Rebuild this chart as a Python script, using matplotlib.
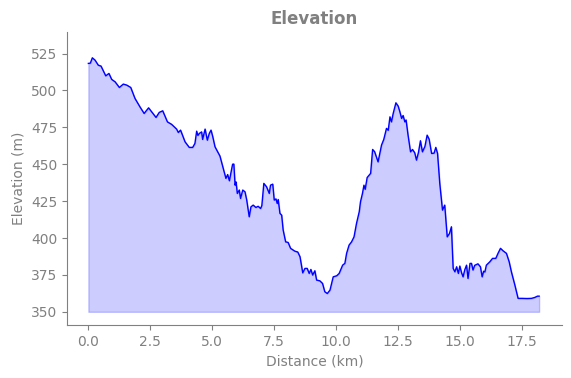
import matplotlib
matplotlib.use("Agg")
import matplotlib.pyplot as plt
import numpy as np

distance_km = [0.0, 0.08, 0.16, 0.27, 0.40, 0.51, 0.70, 0.83, 0.94, 1.08, 1.25, 1.41, 1.55, 1.71,
               1.88, 2.08, 2.25, 2.43, 2.73, 2.86, 3.00, 3.19, 3.36, 3.56, 3.63, 3.72, 3.90, 4.07,
               4.21, 4.30, 4.37, 4.42, 4.48, 4.57, 4.61, 4.71, 4.80, 4.88, 4.95, 5.02, 5.11, 5.18,
               5.31, 5.44, 5.55, 5.62, 5.69, 5.82, 5.87, 5.92, 5.96, 6.01, 6.09, 6.14, 6.23, 6.32,
               6.39, 6.49, 6.56, 6.65, 6.76, 6.85, 6.95, 7.00, 7.08, 7.19, 7.30, 7.35, 7.44, 7.50,
               7.57, 7.62, 7.66, 7.73, 7.80, 7.86, 7.96, 8.06, 8.16, 8.33, 8.45, 8.54, 8.65, 8.74,
               8.83, 8.91, 8.98, 9.05, 9.14, 9.21, 9.34, 9.45, 9.54, 9.64, 9.75, 9.88, 10.02, 10.12,
               10.26, 10.35, 10.42, 10.52, 10.62, 10.72, 10.82, 10.93, 10.98, 11.06, 11.12, 11.17,
               11.25, 11.33, 11.39, 11.47, 11.55, 11.69, 11.83, 11.92, 12.03, 12.10, 12.17, 12.23,
               12.30, 12.41, 12.50, 12.57, 12.64, 12.70, 12.77, 12.82, 12.90, 13.00, 13.08, 13.17,
               13.24, 13.32, 13.40, 13.48, 13.58, 13.67, 13.75, 13.85, 13.95, 14.02, 14.09, 14.18,
               14.29, 14.38, 14.48, 14.57, 14.65, 14.72, 14.79, 14.86, 14.93, 14.99, 15.06, 15.12,
               15.19, 15.26, 15.32, 15.40, 15.46, 15.52, 15.59, 15.72, 15.82, 15.89, 15.95, 16.00,
               16.06, 16.20, 16.31, 16.44, 16.53, 16.63, 16.73, 16.87, 16.98, 17.07, 17.21, 17.34,
               17.50, 17.70, 17.88, 18.01, 18.12, 18.19]

elevation_m = [518.3, 518.5, 522.1, 520.5, 517.1, 516.5, 509.9, 511.5, 507.5, 505.8, 502.0, 504.3,
               503.6, 502.0, 494.6, 488.9, 484.4, 488.2, 481.7, 485.1, 486.2, 478.7, 477.0, 473.8,
               471.5, 473.1, 465.2, 461.4, 461.4, 464.1, 472.4, 469.5, 470.9, 471.9, 466.8, 473.8,
               466.3, 470.9, 473.1, 468.6, 461.8, 459.6, 455.5, 447.2, 440.4, 443.0, 438.8, 450.0,
               450.1, 435.8, 438.0, 430.2, 432.5, 426.8, 432.5, 431.3, 425.7, 414.4, 421.1, 422.3,
               420.7, 421.5, 420.0, 422.0, 437.0, 434.7, 430.2, 435.8, 436.5, 425.7, 426.5, 423.4,
               426.1, 416.7, 415.5, 405.4, 397.4, 397.0, 393.0, 391.1, 390.5, 387.3, 376.4, 379.4,
               379.4, 376.0, 378.7, 374.9, 377.8, 371.5, 371.0, 369.2, 363.6, 362.4, 364.7, 373.7,
               374.4, 376.0, 381.6, 382.8, 389.6, 395.2, 397.4, 400.8, 409.9, 417.8, 424.5, 430.2,
               435.8, 433.0, 441.0, 442.6, 443.8, 460.0, 458.5, 451.6, 463.0, 466.8, 474.3, 473.0,
               482.1, 478.7, 484.4, 491.6, 489.4, 485.5, 481.0, 483.0, 478.7, 480.0, 469.7, 458.4,
               460.0, 457.7, 452.8, 458.0, 465.9, 458.4, 462.0, 469.7, 467.0, 457.3, 457.5, 461.4,
               457.3, 437.0, 418.9, 422.3, 400.8, 403.0, 407.6, 379.4, 377.1, 380.5, 376.0, 381.0,
               376.4, 373.7, 378.5, 381.6, 372.6, 382.8, 382.8, 378.3, 381.5, 382.5, 380.5, 373.7,
               377.5, 377.0, 381.6, 383.9, 386.2, 386.2, 389.6, 393.0, 391.4, 389.6, 383.9, 377.1,
               368.1, 359.1, 359.1, 359.0, 359.1, 359.7, 360.6, 360.6]

baseline_m = 350

fig = plt.figure(figsize=(5.71, 3.78), dpi=100)
ax = fig.add_axes([0.117, 0.140, 0.868, 0.775])

ax.plot(distance_km, elevation_m, color="blue", linewidth=1.0)
ax.fill_between(distance_km, elevation_m, baseline_m, color="blue", alpha=0.2)

ax.set_xlim(-0.87, 19.13)
ax.set_ylim(341, 539.5)
ax.set_xticks([0, 2.5, 5, 7.5, 10, 12.5, 15, 17.5])
ax.set_yticks([350, 375, 400, 425, 450, 475, 500, 525])

grey = "#808080"
ax.set_title("Elevation", fontsize=12, fontweight="bold", color=grey)
ax.set_xlabel("Distance (km)", fontsize=10, color=grey)
ax.set_ylabel("Elevation (m)", fontsize=10, color=grey)
ax.tick_params(colors=grey, labelsize=10)
for side in ["top", "right"]:
    ax.spines[side].set_visible(False)
for side in ["left", "bottom"]:
    ax.spines[side].set_color(grey)

fig.savefig("out.png", dpi=100)
